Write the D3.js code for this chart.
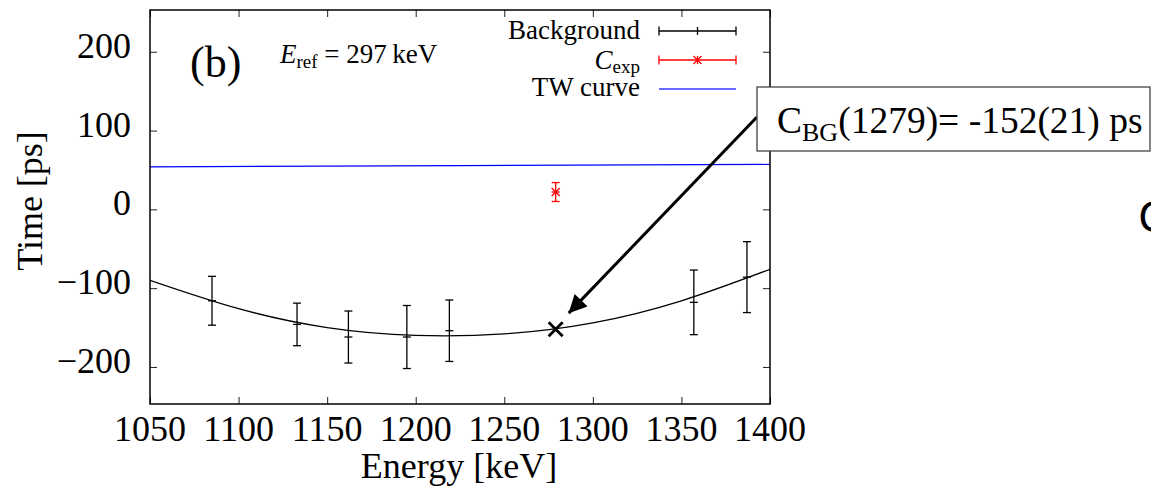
<!DOCTYPE html>
<html>
<head>
<meta charset="utf-8">
<script src="https://cdn.jsdelivr.net/npm/d3@7"></script>
<style>
  body { margin: 0; background: #fff; overflow: hidden; }
  text { font-family: "Liberation Serif", serif; fill: #000; }
</style>
</head>
<body>
<svg id="chart" width="1151" height="494"></svg>
<script>
// values
const bgEnergy = [1085, 1133, 1162, 1195, 1219, 1357, 1387];
const bgTime = [-116, -146, -162, -162, -154, -118, -86];
const bgErr = [31, 27, 33, 40, 39, 41, 45];

const expEnergy = [1279];
const expTime = [22];
const expErr = [12];

const fitEnergy = [1050, 1100, 1150, 1200, 1250, 1300, 1350, 1400];
const fitTime = [-90, -126, -150, -160, -158, -144, -116, -76];

const twEnergy = [1050, 1225, 1400];
const twTime = [54, 55.5, 57];

const cbgEnergy = 1279, cbgTime = -152;

const xTicks = [1050, 1100, 1150, 1200, 1250, 1300, 1350, 1400];
const yTicks = [-200, -100, 0, 100, 200];

const svg = d3.select("#chart");
const pLeft = 150, pRight = 770, pTop = 10, pBottom = 404;

const x = d3.scaleLinear().domain([1050, 1400]).range([pLeft, pRight]);
const y = d3.scaleLinear().domain([-247, 253]).range([pBottom, pTop]);

const fmt = v => v < 0 ? "\u2212" + Math.abs(v) : String(v);

// ticks (inward, mirrored)
const tickLen = 7;
svg.append("g").attr("transform", `translate(0,${pBottom})`)
    .call(d3.axisBottom(x).tickValues(xTicks).tickSize(-tickLen).tickFormat(""))
    .call(g => g.select(".domain").remove());
svg.append("g").attr("transform", `translate(0,${pTop})`)
    .call(d3.axisTop(x).tickValues(xTicks).tickSize(-tickLen).tickFormat(""))
    .call(g => g.select(".domain").remove());
svg.append("g").attr("transform", `translate(${pLeft},0)`)
    .call(d3.axisLeft(y).tickValues(yTicks).tickSize(-tickLen).tickFormat(""))
    .call(g => g.select(".domain").remove());
svg.append("g").attr("transform", `translate(${pRight},0)`)
    .call(d3.axisRight(y).tickValues(yTicks).tickSize(-tickLen).tickFormat(""))
    .call(g => g.select(".domain").remove());
svg.selectAll(".tick line").attr("stroke", "#222").attr("stroke-width", 1);

// tick labels
svg.selectAll(".xlab").data(xTicks).enter().append("text")
    .attr("x", d => x(d)).attr("y", 441)
    .attr("text-anchor", "middle").attr("font-size", 36)
    .text(d => d);
svg.selectAll(".ylab").data(yTicks).enter().append("text")
    .attr("x", 131).attr("y", d => y(d) + 6)
    .attr("text-anchor", "end").attr("font-size", 36)
    .text(fmt);

// axis titles
svg.append("text").attr("x", 459).attr("y", 478)
    .attr("text-anchor", "middle").attr("font-size", 36).text("Energy [keV]");
svg.append("text").attr("transform", "translate(42,201) rotate(-90)")
    .attr("text-anchor", "middle").attr("font-size", 36).text("Time [ps]");

// clip
svg.append("clipPath").attr("id", "clip").append("rect")
    .attr("x", pLeft).attr("y", pTop).attr("width", pRight - pLeft).attr("height", pBottom - pTop);
const plot = svg.append("g").attr("clip-path", "url(#clip)");

// TW curve
const twLine = d3.line().x(d => x(d[0])).y(d => y(d[1]));
plot.append("path").datum(d3.zip(twEnergy, twTime))
    .attr("d", twLine).attr("fill", "none").attr("stroke", "#0000ff").attr("stroke-width", 1.2);

// fit curve
const fitLine = d3.line().x(d => x(d[0])).y(d => y(d[1])).curve(d3.curveNatural);
plot.append("path").datum(d3.zip(fitEnergy, fitTime))
    .attr("d", fitLine).attr("fill", "none").attr("stroke", "#000").attr("stroke-width", 1.3);

// error bars
function errorBars(g, es, ts, errs, color, width) {
  const data = d3.zip(es, ts, errs);
  const cap = 4;
  const eg = g.append("g").attr("stroke", color).attr("stroke-width", width);
  data.forEach(([e, t, s]) => {
    const cx = x(e);
    eg.append("line").attr("x1", cx).attr("x2", cx).attr("y1", y(t - s)).attr("y2", y(t + s));
    eg.append("line").attr("x1", cx - cap).attr("x2", cx + cap).attr("y1", y(t - s)).attr("y2", y(t - s));
    eg.append("line").attr("x1", cx - cap).attr("x2", cx + cap).attr("y1", y(t + s)).attr("y2", y(t + s));
  });
  return eg;
}
const bgG = errorBars(plot, bgEnergy, bgTime, bgErr, "#000", 1.3);
d3.zip(bgEnergy, bgTime).forEach(([e, t]) => {
  bgG.append("line").attr("x1", x(e) - 4).attr("x2", x(e) + 4).attr("y1", y(t)).attr("y2", y(t));
});
const exG = errorBars(plot, expEnergy, expTime, expErr, "#ff0000", 1.3);
d3.zip(expEnergy, expTime).forEach(([e, t]) => {
  const cx = x(e), cy = y(t), r = 4;
  exG.append("line").attr("x1", cx - r).attr("x2", cx + r).attr("y1", cy).attr("y2", cy);
  exG.append("line").attr("x1", cx - r).attr("x2", cx + r).attr("y1", cy - r).attr("y2", cy + r);
  exG.append("line").attr("x1", cx - r).attr("x2", cx + r).attr("y1", cy + r).attr("y2", cy - r);
});

// C_BG marker
const mx = x(cbgEnergy), my = y(cbgTime), mr = 7;
svg.append("path")
    .attr("d", `M${mx - mr},${my - mr}L${mx + mr},${my + mr}M${mx - mr},${my + mr}L${mx + mr},${my - mr}`)
    .attr("stroke", "#000").attr("stroke-width", 2.8);

// frame
svg.append("rect").attr("x", pLeft).attr("y", pTop).attr("width", pRight - pLeft).attr("height", pBottom - pTop)
    .attr("fill", "none").attr("stroke", "#000").attr("stroke-width", 1.5);

// panel label
svg.append("text").attr("x", 190).attr("y", 77).attr("font-size", 44).text("(b)");
const eref = svg.append("text").attr("x", 280).attr("y", 63).attr("font-size", 27);
eref.append("tspan").attr("font-style", "italic").text("E");
eref.append("tspan").attr("font-size", 19).attr("dy", 5).text("ref");
eref.append("tspan").attr("dy", -5).text(" = 297\u2009keV");

// legend
const legX1 = 659, legX2 = 736, legTextX = 640;
const legY = [31, 60, 89];
svg.append("text").attr("x", legTextX).attr("y", legY[0] + 8).attr("text-anchor", "end")
    .attr("font-size", 27).text("Background");
const lc = svg.append("text").attr("x", legTextX).attr("y", legY[1] + 9).attr("text-anchor", "end")
    .attr("font-size", 27);
lc.append("tspan").attr("font-style", "italic").text("C");
lc.append("tspan").attr("font-size", 19).attr("dy", 4).text("exp");
svg.append("text").attr("x", legTextX).attr("y", legY[2] + 7).attr("text-anchor", "end")
    .attr("font-size", 27).text("TW curve");

const lg = svg.append("g");
[["#000", legY[0]], ["#ff0000", legY[1]]].forEach(([c, ly]) => {
  const g = lg.append("g").attr("stroke", c).attr("stroke-width", 1.3);
  g.append("line").attr("x1", legX1).attr("x2", legX2).attr("y1", ly).attr("y2", ly);
  g.append("line").attr("x1", legX1).attr("x2", legX1).attr("y1", ly - 4.5).attr("y2", ly + 4.5);
  g.append("line").attr("x1", legX2).attr("x2", legX2).attr("y1", ly - 4.5).attr("y2", ly + 4.5);
});
const lmx = (legX1 + legX2) / 2;
lg.append("line").attr("x1", lmx).attr("x2", lmx).attr("y1", legY[0] - 4).attr("y2", legY[0] + 4)
    .attr("stroke", "#000").attr("stroke-width", 1.3);
const sg = lg.append("g").attr("stroke", "#ff0000").attr("stroke-width", 1.3);
sg.append("line").attr("x1", lmx).attr("x2", lmx).attr("y1", legY[1] - 4).attr("y2", legY[1] + 4);
sg.append("line").attr("x1", lmx - 4).attr("x2", lmx + 4).attr("y1", legY[1] - 4).attr("y2", legY[1] + 4);
sg.append("line").attr("x1", lmx - 4).attr("x2", lmx + 4).attr("y1", legY[1] + 4).attr("y2", legY[1] - 4);
lg.append("line").attr("x1", legX1).attr("x2", legX2).attr("y1", legY[2]).attr("y2", legY[2])
    .attr("stroke", "#6a6aff").attr("stroke-width", 2);

// annotation
svg.append("defs").append("marker").attr("id", "head")
    .attr("viewBox", "0 0 10 10").attr("refX", 10).attr("refY", 5)
    .attr("markerWidth", 7).attr("markerHeight", 6).attr("markerUnits", "strokeWidth")
    .attr("orient", "auto")
    .append("path").attr("d", "M0,0L10,5L0,10z").attr("fill", "#000");
svg.append("line").attr("x1", 757).attr("y1", 117).attr("x2", mx + 13).attr("y2", my - 16)
    .attr("stroke", "#000").attr("stroke-width", 3).attr("marker-end", "url(#head)");

svg.append("rect").attr("x", 757).attr("y", 87).attr("width", 393).attr("height", 64)
    .attr("fill", "#fff").attr("stroke", "#444").attr("stroke-width", 1.3);
const ann = svg.append("text").attr("x", 777).attr("y", 133).attr("font-size", 37.5);
ann.append("tspan").text("C");
ann.append("tspan").attr("font-size", 26).attr("dy", 8).text("BG");
ann.append("tspan").attr("dy", -8).text("(1279)= -152(21) ps");

// partially visible text at the right edge
svg.append("text").attr("x", 1138).attr("y", 232).attr("font-size", 44)
    .style("font-family", "'Noto Sans', sans-serif").text("C");
</script>
</body>
</html>
